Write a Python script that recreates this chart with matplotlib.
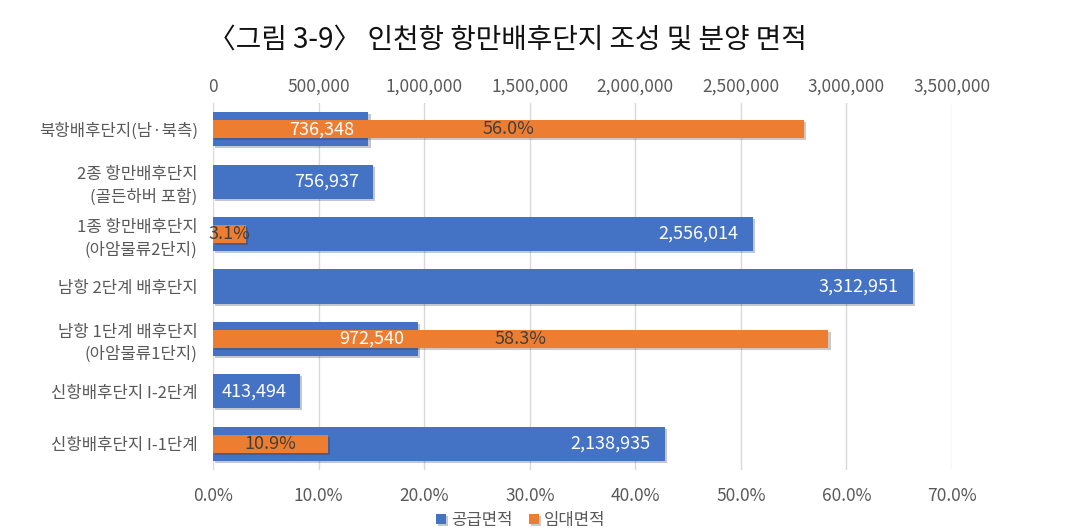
import numpy as np
import matplotlib.pyplot as plt
import matplotlib.patheffects as pe
from matplotlib.ticker import FuncFormatter

plt.rcParams['font.family'] = ['Noto Sans CJK KR', 'DejaVu Sans']

categories = ['북항배후단지(남·북측)', '2종 항만배후단지\n(골든하버 포함)', '1종 항만배후단지\n(아암물류2단지)',
              '남항 2단계 배후단지', '남항 1단계 배후단지\n(아암물류1단지)', '신항배후단지 I-2단계', '신항배후단지 I-1단계']
supply = [736348, 756937, 2556014, 3312951, 972540, 413494, 2138935]
lease_pct = [56.0, np.nan, 3.1, np.nan, 58.3, np.nan, 10.9]

blue = '#4472C4'
orange = '#ED7D31'
gray = '#595959'

fig = plt.figure(figsize=(10.85, 5.32), dpi=100)
ax = fig.add_axes([213 / 1085, 1 - 470 / 532, (952 - 213) / 1085, (470 - 103) / 532])
ax2 = ax.twiny()

y = np.arange(len(categories))
shadow = [pe.SimplePatchShadow(offset=(1.5, -1.5), alpha=0.25), pe.Normal()]

bars_b = ax.barh(y, supply, height=0.65, color=blue, zorder=2, label='공급면적')
for b in bars_b:
    b.set_path_effects(shadow)
bars_o = ax2.barh(y, lease_pct, height=0.34, color=orange, zorder=2, label='임대면적')
for b in bars_o:
    b.set_path_effects(shadow)

ax.set_xlim(0, 3500000)
ax2.set_xlim(0, 70)
ax.set_ylim(len(categories) - 0.5, -0.5)
ax.set_yticks(y)
ax.set_yticklabels(categories, linespacing=1.4)

ax.set_xticks(np.arange(0, 3500001, 500000))
ax.xaxis.set_major_formatter(FuncFormatter(lambda v, p: f'{int(v):,}'))
ax.xaxis.tick_top()
ax2.set_xticks(np.arange(0, 71, 10))
ax2.xaxis.set_major_formatter(FuncFormatter(lambda v, p: f'{v:.1f}%'))
ax2.xaxis.tick_bottom()

for a in (ax, ax2):
    a.tick_params(axis='both', length=0, labelsize=12.5, colors=gray, pad=12)
    for s in a.spines.values():
        s.set_visible(False)
ax.tick_params(axis='x', pad=5)
ax.tick_params(axis='y', labelsize=12, pad=11)
ax.grid(axis='x', color='#D9D9D9', linewidth=1, zorder=0)
ax.set_axisbelow(True)

# value labels
for i, v in enumerate(supply):
    ax2.annotate(f'{v:,}', (v / 3500000 * 70, i), xytext=(-10, 0), textcoords='offset points',
                 ha='right', va='center', color='white', fontsize=13, zorder=5)
for i, p in enumerate(lease_pct):
    if not np.isnan(p):
        ax2.text(p / 2, i, f'{p:.1f}%', ha='center', va='center', color='#404040', fontsize=13, zorder=5)

fig.text(0.468, 0.925, '〈그림 3-9〉 인천항 항만배후단지 조성 및 분양 면적', ha='center', va='center',
         fontsize=20, color='#111111')

fig.legend(handles=[bars_b, bars_o], labels=['공급면적', '임대면적'], loc='center', bbox_to_anchor=(0.48, 0.022),
           ncol=2, frameon=False, fontsize=12, handlelength=0.6, handleheight=0.6, handletextpad=0.3,
           columnspacing=1.0, labelcolor=gray)

fig.savefig('out.png', dpi=100)
